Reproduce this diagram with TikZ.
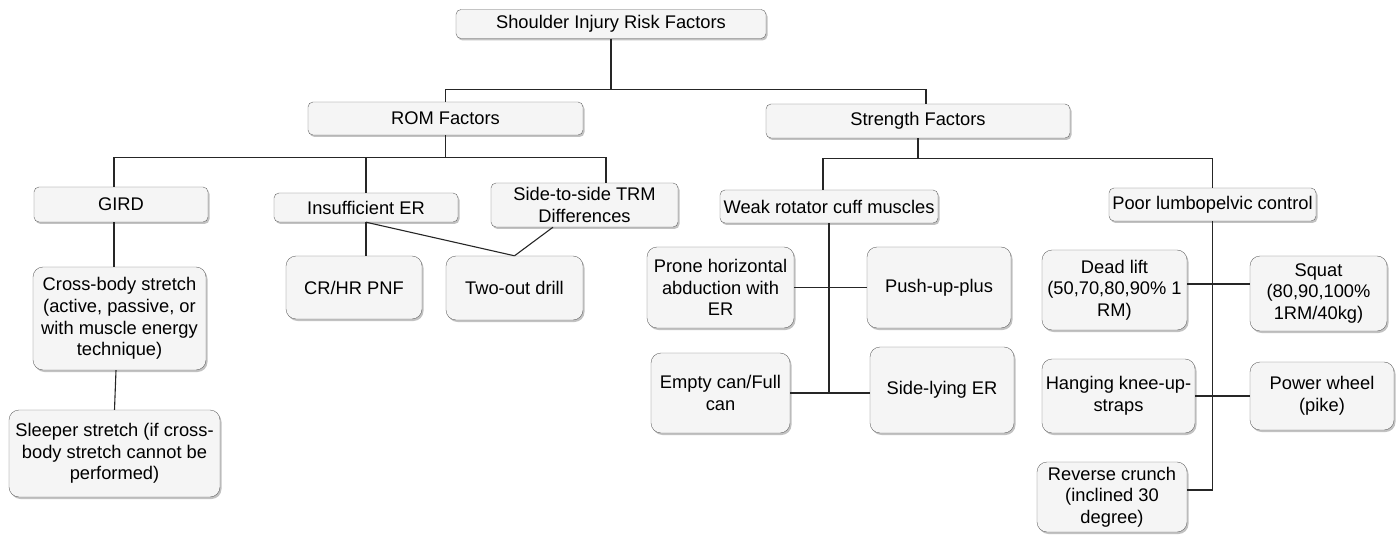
\documentclass[tikz,border=0pt]{standalone}
\usepackage{fontspec}
\setmainfont{Liberation Sans}
\usetikzlibrary{positioning, shadows}
\tikzset{x=1pt, y=-1pt,
  fact/.style={draw=black!60, fill=black!4, rounded corners=5pt, align=center, inner sep=1pt,
    drop shadow={shadow xshift=1.5pt, shadow yshift=-2pt, fill=black!40, opacity=0.6},
    font=\fontsize{18.3}{21.7}\selectfont},
  leaf/.style={fact, rounded corners=10pt},
  sz/.style 2 args={minimum width=#1pt, minimum height=#2pt},
  link/.style={draw=black!85, line width=1.1pt}}

\begin{document}
\begin{tikzpicture}
\useasboundingbox (0,0) rectangle (1399,537);
\node[fact, sz={310}{29}] (root) at (611,24) {Shoulder Injury Risk Factors};
\node[fact, sz={275}{33}] (rom) at (445.5,118.5) {ROM Factors};
\node[fact, sz={304}{34}] (str) at (918,121) {Strength Factors};
\node[fact, sz={174}{35}] (gird) at (121,204.5) {GIRD};
\node[fact, sz={184}{29}] (ier) at (366,207.5) {Insufficient ER};
\node[fact, sz={187}{44}] (trm) at (584.5,205) {Side-to-side TRM\\Differences};
\node[fact, sz={218}{33}] (weak) at (829,206.5) {Weak rotator cuff muscles};
\node[fact, sz={207}{33}] (poor) at (1212.5,204.5) {Poor lumbopelvic control};
\node[leaf, sz={173}{103}] (cross) at (119.5,318.5) {Cross-body stretch\\(active, passive, or\\with muscle energy\\technique)};
\node[leaf, sz={211}{87}] (sleep) at (114.5,453.5) {Sleeper stretch (if cross-\\body stretch cannot be\\performed)};
\node[leaf, sz={136}{63}] (crhr) at (354,287.5) {CR/HR PNF};
\node[leaf, sz={137}{64}] (twoout) at (514.5,288) {Two-out drill};
\node[leaf, sz={147}{81}] (prone) at (720.5,287.5) {Prone horizontal\\abduction with\\ER};
\node[leaf, sz={144}{81}] (push) at (939,287.5) {Push-up-plus};
\node[leaf, sz={139}{80}] (empty) at (720.5,393) {Empty can/Full\\can};
\node[leaf, sz={144}{86}] (side) at (942,390) {Side-lying ER};
\node[leaf, sz={145}{80}] (dead) at (1114.5,290) {Dead lift\\(50,70,80,90\% 1\\RM)};
\node[leaf, sz={137}{75}] (squat) at (1318.5,293.5) {Squat\\(80,90,100\%\\1RM/40kg)};
\node[leaf, sz={153}{74}] (hang) at (1118.5,396) {Hanging knee-up-\\straps};
\node[leaf, sz={144}{68}] (power) at (1322,396) {Power wheel\\(pike)};
\node[leaf, sz={150}{70}] (rev) at (1112,497) {Reverse crunch\\(inclined 30\\degree)};

\draw[link] (root.south) -- ++(0,51) coordinate (topj) -| (rom.north);
\draw[link] (topj) -| ([xshift=8pt]str.north);
\draw[link] (rom.south) -- ++(0,22) coordinate (romj) -| ([xshift=-7pt]gird.north);
\draw[link] (romj) -| (ier.north);
\draw[link] (romj) -| ([xshift=21.5pt]trm.north);
\draw[link] (str.south) -- ++(0,20) coordinate (strj) -| ([xshift=-6pt]weak.north);
\draw[link] (strj) -| (poor.north);
\draw[link] ([xshift=-7pt]gird.south) -- ([xshift=-5.5pt]cross.north);
\draw[link] ([xshift=-3.5pt]cross.south) -- (sleep.north);
\draw[link] (ier.south) -- (ier.south |- crhr.north);
\draw[link] (ier.south) -- (twoout.north);
\draw[link] ([xshift=-31.5pt]trm.south) -- (twoout.north);
\draw[link] (weak.south) -- (weak.south |- empty.east);
\draw[link] (prone) -- (push);
\draw[link] (empty.east) -- (empty.east -| side.west);
\draw[link] (poor.south) |- ([yshift=7pt]rev.east);
\draw[link] ([yshift=6pt]dead.east) -- ([yshift=6pt]dead.east -| squat.west);
\draw[link] (hang) -- (power);
\end{tikzpicture}
\end{document}
